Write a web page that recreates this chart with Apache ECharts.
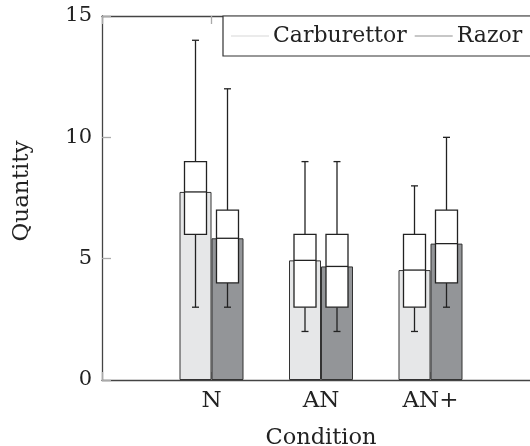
<!DOCTYPE html>
<html>
<head>
<meta charset="utf-8">
<script src="https://cdn.jsdelivr.net/npm/echarts@6/dist/echarts.min.js"></script>
<style>
  html, body { margin: 0; padding: 0; background: #fff; }
  #chart { width: 530px; height: 446px; }
</style>
</head>
<body>
<div id="chart"></div>
<script>
// conditions on the x axis
const categories = ['N', 'AN', 'AN+'];

// bar heights (means)
const carbMean = [7.75, 4.93, 4.53];
const razorMean = [5.84, 4.68, 5.62];

// box plot values: whisker low, lower quartile, upper quartile, whisker high
const carbMin = [3, 2, 2];
const carbQ1 = [6, 3, 3];
const carbQ3 = [9, 6, 6];
const carbMax = [14, 9, 8];

const razorMin = [3, 2, 3];
const razorQ1 = [4, 3, 4];
const razorQ3 = [7, 6, 7];
const razorMax = [12, 9, 10];

const yTicks = [0, 5, 10, 15];

const FONT = 'DejaVu Serif';
const INK = '#222';

// padded axis: an empty slot on each side, like the original x range
const axisCats = [''].concat(categories, ['']);
const pad = arr => [null].concat(arr, [null]);

function boxRows(min, q1, q3, max, mean) {
  return categories.map((c, i) => [i + 1, min[i], q1[i], q3[i], max[i], mean[i]]);
}

function makeBoxRender(shift) {
  return function (params, api) {
    const x = api.value(0);
    const p = v => api.coord([x, v]);
    const cx = p(0)[0] + shift;
    const yMin = p(api.value(1))[1];
    const yQ1 = p(api.value(2))[1];
    const yQ3 = p(api.value(3))[1];
    const yMax = p(api.value(4))[1];
    const yMean = p(api.value(5))[1];
    const hw = 11, cap = 3.5;
    const ls = { stroke: INK, lineWidth: 1.3 };
    return {
      type: 'group',
      children: [
        { type: 'line', shape: { x1: cx, y1: yMin, x2: cx, y2: yQ1 }, style: ls },
        { type: 'line', shape: { x1: cx, y1: yQ3, x2: cx, y2: yMax }, style: ls },
        { type: 'line', shape: { x1: cx - cap, y1: yMin, x2: cx + cap, y2: yMin }, style: ls },
        { type: 'line', shape: { x1: cx - cap, y1: yMax, x2: cx + cap, y2: yMax }, style: ls },
        { type: 'rect', shape: { x: cx - hw, y: yQ3, width: hw * 2, height: yQ1 - yQ3 },
          style: { fill: '#fff', stroke: INK, lineWidth: 1.3 } },
        { type: 'line', shape: { x1: cx - hw, y1: yMean, x2: cx + hw, y2: yMean }, style: ls }
      ]
    };
  };
}

const chart = echarts.init(document.getElementById('chart'), null, { renderer: 'canvas' });

chart.setOption({
  animation: false,
  backgroundColor: '#fff',
  textStyle: { fontFamily: FONT },
  grid: { left: 102, top: 16, bottom: 66, right: -10, containLabel: false, outerBoundsMode: 'none' },
  legend: {
    left: 223,
    top: 16,
    width: 400,
    orient: 'horizontal',
    padding: [9, 10, 9, 8],
    itemWidth: 38,
    itemHeight: 1.5,
    itemGap: 8,
    icon: 'rect',
    backgroundColor: '#fff',
    borderColor: '#333',
    borderWidth: 1.2,
    textStyle: { fontFamily: FONT, fontSize: 22, color: INK, padding: [0, 0, 0, -1] },
    data: [
      { name: 'Carburettor', itemStyle: { color: '#e4e4e4', borderWidth: 0 } },
      { name: 'Razor', itemStyle: { color: '#b4b4b4', borderWidth: 0 } }
    ],
    z: 10
  },
  xAxis: [
    {
      type: 'category',
      data: axisCats,
      boundaryGap: false,
      name: 'Condition',
      nameLocation: 'middle',
      nameGap: 47,
      nameTextStyle: { fontFamily: FONT, fontSize: 22.5, color: INK },
      axisLine: { lineStyle: { color: '#444', width: 1.3 } },
      axisTick: { show: true, inside: true, length: 8, lineStyle: { color: '#aaa', width: 1.3 } },
      axisLabel: { fontFamily: FONT, fontSize: 23, color: INK, margin: 10, interval: 0 },
      splitLine: { show: false }
    },
    {
      type: 'category',
      data: axisCats,
      boundaryGap: false,
      position: 'top',
      axisLine: { lineStyle: { color: '#444', width: 1.3 } },
      axisTick: { show: true, inside: true, length: 8, lineStyle: { color: '#aaa', width: 1.3 } },
      axisLabel: { show: false },
      splitLine: { show: false }
    }
  ],
  yAxis: {
    type: 'value',
    min: yTicks[0],
    max: yTicks[yTicks.length - 1],
    interval: 5,
    name: 'Quantity',
    nameLocation: 'middle',
    nameGap: 68,
    nameTextStyle: { fontFamily: FONT, fontSize: 23, color: INK, padding: [0, 0, 0, 14] },
    axisLine: { show: true, lineStyle: { color: '#444', width: 1.3 } },
    axisTick: { show: true, inside: true, length: 9, lineStyle: { color: '#aaa', width: 1.3 } },
    axisLabel: { fontFamily: FONT, fontSize: 21, color: INK, margin: 10 },
    splitLine: { show: false }
  },
  series: [
    {
      name: 'Carburettor',
      type: 'bar',
      data: pad(carbMean),
      barWidth: 32,
      barGap: '0%',
      itemStyle: { color: '#e6e7e8', borderColor: '#333', borderWidth: 1 },
      z: 2
    },
    {
      name: 'Razor',
      type: 'bar',
      data: pad(razorMean),
      barWidth: 32,
      barGap: '0%',
      itemStyle: { color: '#939598', borderColor: '#333', borderWidth: 1 },
      z: 2
    },
    {
      name: 'Carburettor box',
      type: 'custom',
      renderItem: makeBoxRender(-16),
      data: boxRows(carbMin, carbQ1, carbQ3, carbMax, carbMean),
      z: 3
    },
    {
      name: 'Razor box',
      type: 'custom',
      renderItem: makeBoxRender(16),
      data: boxRows(razorMin, razorQ1, razorQ3, razorMax, razorMean),
      z: 3
    }
  ]
});
</script>
</body>
</html>
